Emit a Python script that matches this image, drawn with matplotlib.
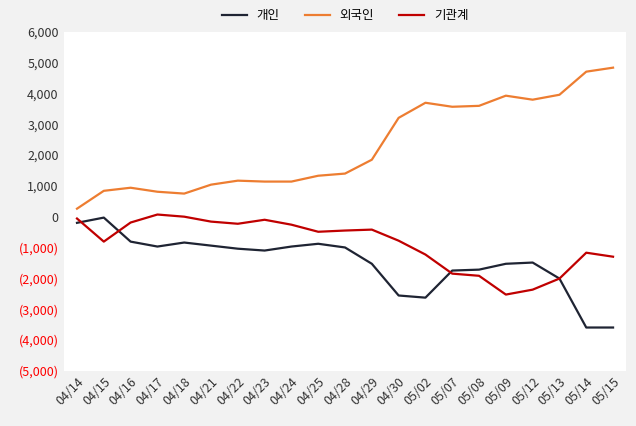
import matplotlib
matplotlib.use("Agg")
import matplotlib.pyplot as plt

plt.rcParams["font.family"] = ["Noto Sans CJK KR", "Noto Sans CJK JP", "Noto Sans CJK SC", "DejaVu Sans"]

dates = ["04/14", "04/15", "04/16", "04/17", "04/18", "04/21", "04/22", "04/23", "04/24", "04/25",
         "04/28", "04/29", "04/30", "05/02", "05/07", "05/08", "05/09", "05/12", "05/13", "05/14", "05/15"]
individual = [-200, -30, -810, -970, -840, -940, -1040, -1100, -970, -880,
              -1000, -1530, -2560, -2630, -1750, -1720, -1530, -1490, -2010, -3600, -3600]
foreign = [260, 840, 940, 810, 750, 1040, 1170, 1140, 1140, 1330,
           1400, 1850, 3210, 3700, 3570, 3600, 3930, 3800, 3960, 4710, 4840]
institution = [-60, -810, -190, 70, 0, -160, -230, -100, -260, -490,
               -450, -420, -780, -1230, -1850, -1920, -2530, -2370, -2010, -1170, -1300]
yticks = list(range(-5000, 6001, 1000))

fig, ax = plt.subplots(figsize=(6.36, 4.26), dpi=100)
fig.patch.set_facecolor("#f2f2f2")
ax.set_facecolor("white")
x = range(len(dates))
ax.plot(x, individual, color="#1f2433", lw=1.6, label="개인")
ax.plot(x, foreign, color="#ed7d31", lw=1.6, label="외국인")
ax.plot(x, institution, color="#c00000", lw=1.6, label="기관계")

ax.set_ylim(-5000, 6000)
ax.set_xlim(-0.5, len(dates) - 0.5)
ax.set_yticks(yticks)
ax.set_yticklabels([f"({abs(v):,})" if v < 0 else f"{v:,}" for v in yticks], fontsize=9)
for lbl, v in zip(ax.get_yticklabels(), yticks):
    lbl.set_color("#ff0000" if v < 0 else "#333333")
ax.set_xticks(list(x))
ax.set_xticklabels(dates, rotation=45, ha="right", rotation_mode="anchor", fontsize=9, color="#333333")
for s in ax.spines.values():
    s.set_visible(False)
ax.tick_params(length=0)
ax.legend(loc="upper center", bbox_to_anchor=(0.5, 1.1), ncol=3, frameon=False, fontsize=9,
          handlelength=2)
fig.subplots_adjust(left=0.1, right=0.985, top=0.925, bottom=0.13)
fig.savefig("out.png", dpi=100, facecolor=fig.get_facecolor())
